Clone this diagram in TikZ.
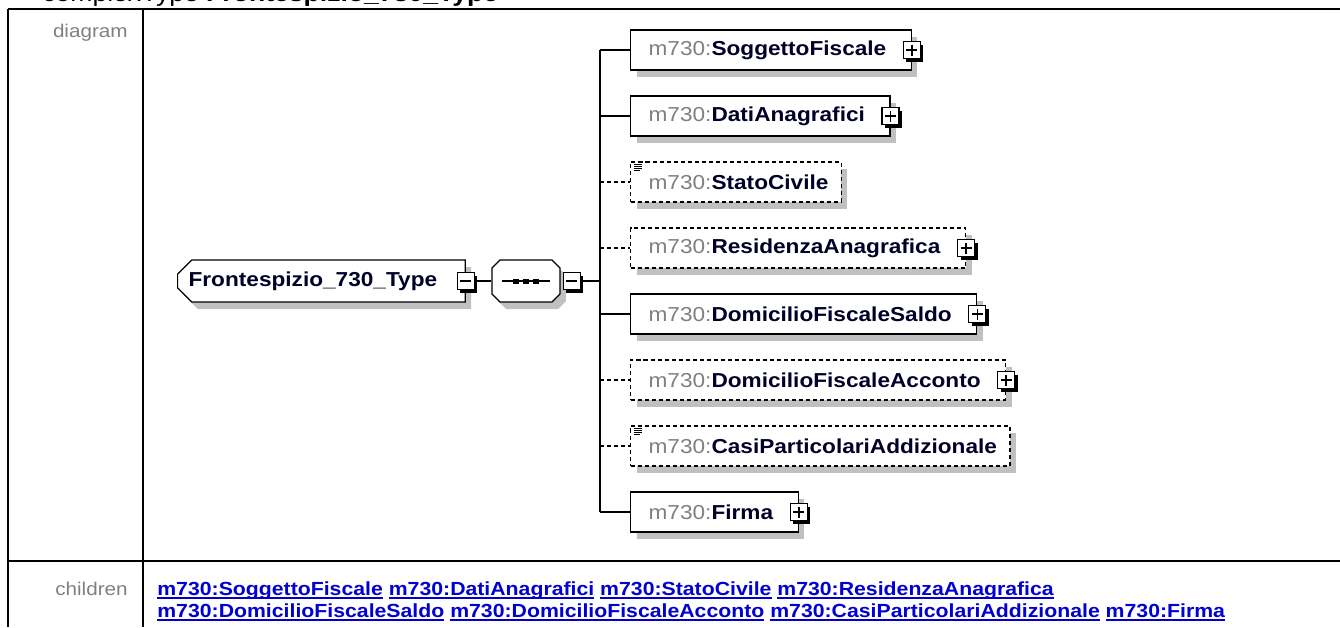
\documentclass[tikz,border=0pt]{standalone}
\usepackage{fontspec}
\setmainfont{Liberation Sans}[FakeStretch=1.12]
\usetikzlibrary{shapes.misc,shadows}

\definecolor{pfxgray}{RGB}{128,128,128}
\definecolor{lblgray}{RGB}{128,128,128}
\definecolor{linkblue}{RGB}{0,0,210}
\definecolor{namenavy}{RGB}{0,0,40}
\definecolor{shadegray}{RGB}{192,192,192}

\newsavebox{\lnkbox}
\newcommand{\ename}[1]{\hspace*{0.1cm}{\color{pfxgray}m730:}{\color{namenavy}\textbf{#1}}}
\newcommand{\lnk}[1]{\sbox{\lnkbox}{\textbf{#1}}\rlap{\usebox{\lnkbox}}\rule[-2.2pt]{\wd\lnkbox}{0.9pt}}

\begin{document}
\begin{tikzpicture}[x=0.02cm, y=-0.02cm,
    elem/.style={draw, fill=white, line width=0.7pt, minimum height=0.8cm,
      inner xsep=0.26cm, inner ysep=0, font=\fontsize{11.5}{13}\selectfont,
      drop shadow={shadow xshift=0.12cm, shadow yshift=-0.14cm, fill=shadegray, opacity=1}},
    optelem/.style={elem, dash pattern=on 2.3pt off 1.7pt},
    rootbox/.style={elem, chamfered rectangle, chamfered rectangle corners={north west,south west},
      chamfered rectangle xsep=0.16cm, minimum height=0.84cm, inner xsep=0.06cm},
    seqbox/.style={elem, chamfered rectangle, chamfered rectangle angle=45,
      chamfered rectangle xsep=0.16cm, chamfered rectangle ysep=0.16cm,
      minimum height=0.84cm, inner xsep=0.68cm},
    togl/.style={draw, fill=white, line width=0.7pt, minimum size=0.34cm, inner sep=0,
      drop shadow={shadow xshift=0.06cm, shadow yshift=-0.06cm, fill=black, opacity=1}},
    plus/.style={togl, path picture={\draw[line width=0.9pt]
      ([xshift=0.06cm]path picture bounding box.west) -- ([xshift=-0.06cm]path picture bounding box.east)
      ([yshift=-0.06cm]path picture bounding box.north) -- ([yshift=0.06cm]path picture bounding box.south);}},
    minus/.style={togl, path picture={\draw[line width=0.9pt]
      ([xshift=0.06cm]path picture bounding box.west) -- ([xshift=-0.06cm]path picture bounding box.east);}},
    conn/.style={line width=0.8pt},
    optconn/.style={conn, dash pattern=on 2.3pt off 1.7pt},
    frame/.style={line width=1.1pt},
    side/.style={anchor=base east, inner sep=0, text=lblgray, font=\fontsize{10.5}{12}\selectfont},
    link/.style={anchor=base west, inner sep=0, text=linkblue, font=\fontsize{10.8}{12}\selectfont}
  ]
    \useasboundingbox (0,0) rectangle (1340,627);
    \clip (0,0) rectangle (1340,627);

    % page heading, cut at the top
    \node[anchor=base west, inner sep=0, font=\fontsize{13.5}{16}\selectfont] (hdr) at (42,1.5)
      {complexType \textbf{Frontespizio\_730\_Type}};

    % table frame
    \draw[frame] (8,9) -- (1340,9);
    \draw[frame] (8,9) -- (8,627);
    \draw[frame] (143,9) -- (143,627);
    \draw[frame] (8,561) -- (1340,561);

    \node[side] (dlbl) at (128,37) {diagram};
    \node[side] (clbl) at (128,595) {children};

    % type and sequence
    \node[rootbox, anchor=west] (root) at (177,281) {\color{namenavy}\textbf{Frontespizio\_730\_Type}\hspace*{0.34cm}};
    \node[minus] (root-tg) at (root.east) {};
    \node[seqbox] (seq) at (526,281) {};
    \node[minus, anchor=west] (seq-tg) at ([xshift=0.04cm]seq.east) {};
    \draw[line width=0.8pt] ([xshift=-0.48cm]seq.center) -- ([xshift=0.48cm]seq.center);
    \foreach \dx in {-10,0,10}
      \fill ([shift={(\dx-3,-2.5)}]seq.center) rectangle ++(6,5);

    % child elements
    \node[elem, anchor=west] (sogg) at (630,50) {\ename{SoggettoFiscale}\hspace*{0.24cm}};
    \node[plus] (sogg-tg) at (sogg.east) {};
    \node[elem, anchor=west] (dati) at (630,116) {\ename{DatiAnagrafici}\hspace*{0.24cm}};
    \node[plus] (dati-tg) at (dati.east) {};
    \node[optelem, anchor=west] (stato) at (630,182) {\ename{StatoCivile}};
    \node[optelem, anchor=west] (resid) at (630,248) {\ename{ResidenzaAnagrafica}\hspace*{0.24cm}};
    \node[plus] (resid-tg) at (resid.east) {};
    \node[elem, anchor=west] (saldo) at (630,314) {\ename{DomicilioFiscaleSaldo}\hspace*{0.24cm}};
    \node[plus] (saldo-tg) at (saldo.east) {};
    \node[optelem, anchor=west] (accto) at (630,380) {\ename{DomicilioFiscaleAcconto}\hspace*{0.24cm}};
    \node[plus] (accto-tg) at (accto.east) {};
    \node[optelem, anchor=west] (casi) at (630,446) {\ename{CasiParticolariAddizionale}};
    \node[elem, anchor=west] (firma) at (630,512) {\ename{Firma}\hspace*{0.24cm}};
    \node[plus] (firma-tg) at (firma.east) {};

    % simple-content marks
    \foreach \el in {stato,casi}
      \foreach \dy/\len in {3/8,5/8,7/8,9/6}
        \draw[line width=0.5pt] ([shift={(4,\dy)}]\el.north west) -- ++(\len,0);

    % connectors
    \coordinate (spn) at (600,281);
    \draw[conn] (root-tg.east) -- (seq.west);
    \draw[conn] (seq-tg.east) -- (spn);
    \draw[conn] (spn |- sogg.west) -- (spn |- firma.west);
    \draw[conn] (spn |- sogg.west) -- (sogg.west);
    \draw[conn] (spn |- dati.west) -- (dati.west);
    \draw[optconn] (spn |- stato.west) -- (stato.west);
    \draw[optconn] (spn |- resid.west) -- (resid.west);
    \draw[conn] (spn |- saldo.west) -- (saldo.west);
    \draw[optconn] (spn |- accto.west) -- (accto.west);
    \draw[optconn] (spn |- casi.west) -- (casi.west);
    \draw[conn] (spn |- firma.west) -- (firma.west);

    % list of children
    \node[link] (kids1) at (157,595) {\lnk{m730:SoggettoFiscale} \lnk{m730:DatiAnagrafici}
      \lnk{m730:StatoCivile} \lnk{m730:ResidenzaAnagrafica}};
    \node[link] (kids2) at (157,617) {\lnk{m730:DomicilioFiscaleSaldo} \lnk{m730:DomicilioFiscaleAcconto}
      \lnk{m730:CasiParticolariAddizionale} \lnk{m730:Firma}};
\end{tikzpicture}
\end{document}
